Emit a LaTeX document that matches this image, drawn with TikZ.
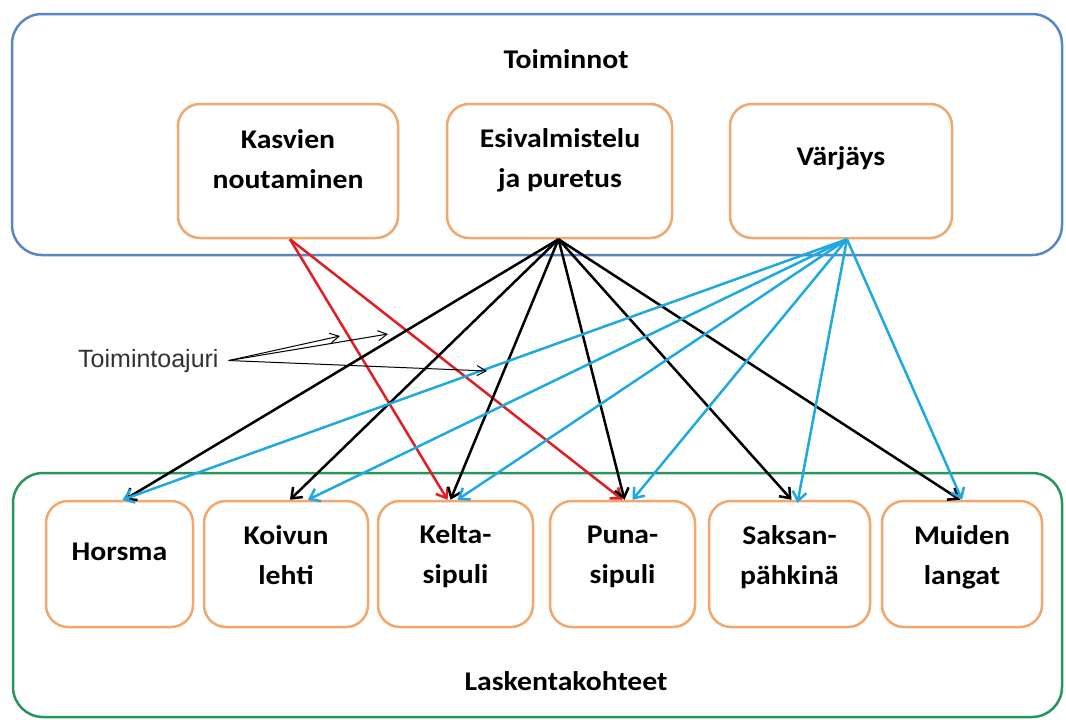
\documentclass[tikz,border=0pt]{standalone}
\usepackage{fontspec}
\setmainfont{Carlito}[FakeStretch=1.1]
\newfontfamily\notefont{Liberation Sans}
\usepackage{tikz}
\usetikzlibrary{arrows.meta,calc,positioning}
\definecolor{groupblue}{RGB}{88,134,198}
\definecolor{groupgreen}{RGB}{40,150,90}
\definecolor{boxorange}{RGB}{240,168,110}
\definecolor{linkred}{RGB}{225,30,35}
\definecolor{linkblue}{RGB}{30,170,225}
\definecolor{notegrey}{RGB}{50,50,50}
\tikzset{
        group/.style = {draw, rounded corners=30pt, line width=2.5pt},
        block/.style = {draw=boxorange, rounded corners=22pt, line width=2.5pt,
            fill=white, inner sep=0pt},
        boxtext/.style = {font=\bfseries\fontsize{27}{40}\selectfont,
            align=center, inner sep=0pt},
        link/.style = {draw, line width=2.5pt,
            -{Straight Barb[length=9pt,width=14pt]}},
        note/.style = {font=\notefont\fontsize{25}{30}\selectfont,
            text=notegrey, inner sep=0pt},
        notearrow/.style = {draw, line width=1pt,
            -{Straight Barb[length=9pt,width=10pt]}},
    }
\begin{document}
\begin{tikzpicture}[x=1pt,y=1pt,yscale=-1,xscale=1]
    \fill[white] (0,0) rectangle (1066,720);
    \useasboundingbox (0,0) rectangle (1066,720);

    % Groups
    \node[group, draw=groupblue, minimum width=1050pt, minimum height=241pt] (toiminnot) at (537,134.5) {};
    \node[group, draw=groupgreen, minimum width=1049pt, minimum height=244pt] (laskenta) at (537.5,595) {};
    \node[boxtext, anchor=base] (toiminnot-t) at (566,68) {Toiminnot};
    \node[boxtext, anchor=base] (laskenta-t) at (566,690) {Laskentakohteet};

    % Toiminnot (base = last line)
    \node[block, minimum width=220pt, minimum height=134pt] (kasvien) at (288,171) {};
    \node[block, minimum width=225pt, minimum height=134pt] (esival) at (559.5,171) {};
    \node[block, minimum width=222pt, minimum height=134pt] (varjays) at (841,171) {};
    \node[boxtext, anchor=base] (kasvien-t) at (288,188) {Kasvien\\noutaminen};
    \node[boxtext, anchor=base] (esival-t) at (560,187) {Esivalmistelu\\ja puretus};
    \node[boxtext, anchor=base] (varjays-t) at (841,165) {Värjäys};

    % Laskentakohteet
    \node[block, minimum width=147pt, minimum height=126pt] (horsma) at (119.5,564) {};
    \node[block, minimum width=164pt, minimum height=126pt] (koivun) at (286,564) {};
    \node[block, minimum width=155pt, minimum height=126pt] (kelta) at (455.5,564) {};
    \node[block, minimum width=145pt, minimum height=126pt] (puna) at (622.5,564) {};
    \node[block, minimum width=161pt, minimum height=126pt] (saksan) at (789.5,564) {};
    \node[block, minimum width=160pt, minimum height=126pt] (muiden) at (962,564) {};
    \node[boxtext, anchor=base] (horsma-t) at (119.5,560) {Horsma};
    \node[boxtext, anchor=base] (koivun-t) at (286,584) {Koivun\\lehti};
    \node[boxtext, anchor=base] (kelta-t) at (455.5,583) {Kelta-\\sipuli};
    \node[boxtext, anchor=base] (puna-t) at (622.5,583) {Puna-\\sipuli};
    \node[boxtext, anchor=base] (saksan-t) at (789.5,584) {Saksan-\\pähkinä};
    \node[boxtext, anchor=base] (muiden-t) at (962,584) {Muiden\\langat};

    % Kasvien noutaminen
    \draw[link, draw=linkred] ([xshift=2pt]kasvien.south) -- ([xshift=-8pt]kelta.north);
    \draw[link, draw=linkred] ([xshift=2pt]kasvien.south) -- ([xshift=0pt]puna.north);

    % Esivalmistelu ja puretus
    \draw[link] ([xshift=-1pt]esival.south) -- ([xshift=5pt]horsma.north);
    \draw[link] ([xshift=-1pt]esival.south) -- ([xshift=4pt]koivun.north);
    \draw[link] ([xshift=-1pt]esival.south) -- ([xshift=-5pt]kelta.north);
    \draw[link] ([xshift=-1pt]esival.south) -- ([xshift=2pt]puna.north);
    \draw[link] ([xshift=-1pt]esival.south) -- ([xshift=2pt]saksan.north);
    \draw[link] ([xshift=-1pt]esival.south) -- ([xshift=-2pt]muiden.north);

    % Värjäys
    \draw[link, draw=linkblue] ([xshift=6pt]varjays.south) -- ([xshift=3pt]horsma.north);
    \draw[link, draw=linkblue] ([xshift=6pt]varjays.south) -- ([xshift=22pt]koivun.north);
    \draw[link, draw=linkblue] ([xshift=6pt]varjays.south) -- ([xshift=2pt]kelta.north);
    \draw[link, draw=linkblue] ([xshift=6pt]varjays.south) -- ([xshift=10pt]puna.north);
    \draw[link, draw=linkblue] ([xshift=6pt]varjays.south) -- ([xshift=8pt,yshift=3pt]saksan.north);
    \draw[link, draw=linkblue] ([xshift=6pt]varjays.south) -- ([xshift=0pt]muiden.north);

    % Toimintoajuri
    \node[note, anchor=base west] (ajuri) at (78,367) {Toimintoajuri};
    \coordinate (ajuri-a) at (340,336);
    \coordinate (ajuri-b) at (388,334);
    \coordinate (ajuri-c) at (487,371);
    \draw[notearrow] ([xshift=10pt]ajuri.east) -- (ajuri-a);
    \draw[notearrow] ([xshift=10pt]ajuri.east) -- (ajuri-b);
    \draw[notearrow] ([xshift=10pt]ajuri.east) -- (ajuri-c);

\end{tikzpicture}
\end{document}
